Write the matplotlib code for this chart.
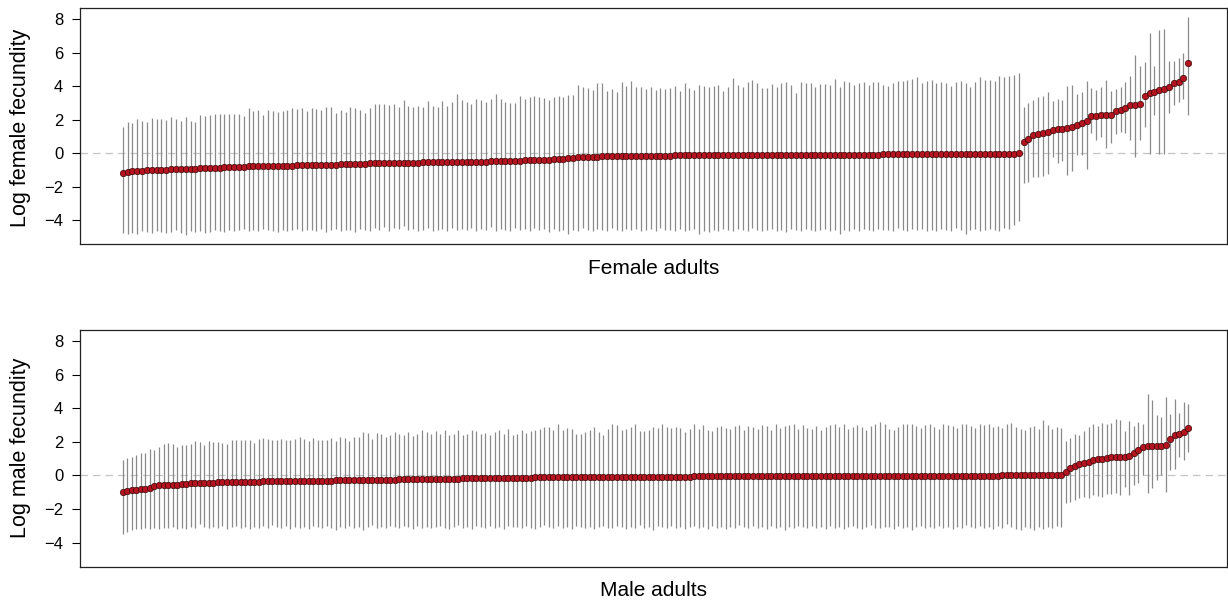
import matplotlib
matplotlib.use("Agg")
import matplotlib.pyplot as plt
import numpy as np

plt.rcParams["font.family"] = ["Liberation Sans", "DejaVu Sans"]

# female adults: posterior mean and interval of log fecundity, sorted by mean
female_mean = [
    -1.20, -1.10, -1.06, -1.04, -1.03, -1.01, -1.00, -0.99, -0.98, -0.97,
    -0.96, -0.95, -0.94, -0.93, -0.92, -0.91, -0.90, -0.89, -0.88, -0.87,
    -0.86, -0.84, -0.82, -0.81, -0.80, -0.79, -0.78, -0.77, -0.76, -0.76,
    -0.75, -0.75, -0.74, -0.74, -0.73, -0.73, -0.72, -0.72, -0.71, -0.71,
    -0.70, -0.70, -0.69, -0.68, -0.67, -0.66, -0.65, -0.64, -0.63, -0.62,
    -0.61, -0.60, -0.59, -0.58, -0.57, -0.56, -0.56, -0.55, -0.55, -0.55,
    -0.55, -0.55, -0.54, -0.54, -0.54, -0.53, -0.53, -0.53, -0.52, -0.52,
    -0.51, -0.51, -0.50, -0.50, -0.49, -0.49, -0.48, -0.47, -0.46, -0.45,
    -0.45, -0.44, -0.43, -0.42, -0.41, -0.40, -0.40, -0.39, -0.38, -0.36,
    -0.34, -0.32, -0.29, -0.26, -0.24, -0.23, -0.22, -0.20, -0.19, -0.18,
    -0.17, -0.16, -0.16, -0.15, -0.15, -0.14, -0.14, -0.14, -0.14, -0.13,
    -0.13, -0.13, -0.13, -0.13, -0.12, -0.12, -0.12, -0.12, -0.12, -0.12,
    -0.12, -0.12, -0.11, -0.11, -0.11, -0.11, -0.11, -0.11, -0.10, -0.10,
    -0.10, -0.10, -0.10, -0.10, -0.10, -0.09, -0.09, -0.09, -0.09, -0.09,
    -0.09, -0.09, -0.08, -0.08, -0.08, -0.08, -0.08, -0.08, -0.08, -0.08,
    -0.07, -0.07, -0.07, -0.07, -0.07, -0.07, -0.07, -0.06, -0.06, -0.06,
    -0.06, -0.06, -0.06, -0.05, -0.05, -0.05, -0.05, -0.05, -0.04, -0.04,
    -0.04, -0.04, -0.04, -0.03, -0.03, -0.03, -0.03, -0.03, -0.02, -0.02,
    -0.02, -0.02, -0.01, -0.01, -0.01, 0.00,
    0.70, 0.88, 1.07, 1.13, 1.23, 1.29, 1.37, 1.43, 1.43, 1.53,
    1.59, 1.67, 1.83, 1.95, 2.21, 2.21, 2.27, 2.31, 2.31, 2.53,
    2.61, 2.71, 2.87, 2.91, 2.97, 3.44, 3.58, 3.68, 3.78, 3.82,
    3.94, 4.18, 4.24, 4.52, 5.37,
]
female_upper = [
    1.59, 1.89, 1.79, 2.03, 1.93, 1.89, 2.09, 2.05, 2.05, 1.99,
    2.19, 2.05, 1.95, 2.15, 1.95, 1.89, 2.29, 2.23, 2.29, 2.33,
    2.35, 2.35, 2.35, 2.35, 2.35, 2.25, 2.69, 2.53, 2.59, 2.29,
    2.59, 2.53, 2.49, 2.53, 2.59, 2.69, 2.63, 2.69, 2.53, 2.73,
    2.63, 2.59, 2.75, 2.79, 2.39, 2.59, 2.49, 2.75, 2.69, 2.59,
    2.39, 2.69, 2.95, 2.95, 2.95, 2.89, 2.95, 2.79,
    3.18, 2.83, 2.75, 2.83, 2.79, 3.12, 2.83, 2.79, 3.12, 2.83,
    3.04, 3.52, 3.18, 3.08, 2.95, 3.22, 3.18, 3.04, 3.24, 3.52,
    3.24, 3.08, 2.99, 3.02, 3.44, 3.24, 3.38, 3.42, 3.34, 3.28,
    3.18, 3.34, 3.44, 3.38, 3.48, 3.48, 4.08, 3.94, 3.88, 3.78,
    4.18, 4.18, 3.74, 3.82, 3.66, 4.28, 4.02, 4.32, 3.94, 3.94,
    3.86, 3.94, 3.78, 3.88, 3.82, 3.88, 4.02, 3.72, 4.18, 3.88,
    3.78, 4.08,
    4.02, 3.98, 4.02, 4.08, 3.74, 3.94, 4.48, 4.08, 3.94, 4.28,
    4.38, 4.18, 3.88, 3.88, 4.14, 3.94, 4.18, 4.28, 4.08, 3.62,
    4.28, 4.18, 4.22, 3.94, 4.12, 4.14, 4.08, 4.42, 3.98, 4.34,
    4.28, 4.08, 4.18, 4.28, 4.08, 4.28, 4.28, 4.08, 4.02, 4.22,
    4.32, 4.34, 4.38, 4.42, 4.54, 4.18, 4.34, 4.38, 4.18, 4.28,
    4.22, 4.02, 4.28, 4.34, 4.18, 3.94, 4.28, 4.58, 4.38, 4.38,
    4.32, 4.62, 4.54,
    4.62, 4.68, 4.78,
    2.75, 2.99, 3.18, 3.38, 3.44, 3.64, 3.10, 3.24, 3.18, 4.02,
    4.08, 3.52, 3.68, 4.34, 3.92, 3.78, 3.98, 4.36, 3.70, 3.84,
    3.94, 4.28, 4.64, 5.89, 5.21, 5.43, 7.20, 5.21, 7.36, 7.40,
    5.53, 5.53, 5.67, 5.97, 8.16,
]
female_lower = [
    -4.78, -4.82, -4.76, -4.80, -4.62, -4.70, -4.74, -4.66, -4.72, -4.78,
    -4.68, -4.60, -4.74, -4.86, -4.66, -4.70, -4.62, -4.76, -4.72, -4.58,
    -4.64, -4.70, -4.56, -4.66, -4.60, -4.52, -4.62, -4.58, -4.66, -4.54,
    -4.60, -4.64, -4.70, -4.56, -4.62, -4.58, -4.52, -4.66, -4.60, -4.56,
    -4.62, -4.54, -4.68, -4.58, -4.50, -4.64, -4.56, -4.60, -4.70, -4.52,
    -4.58, -4.62, -4.44, -4.56, -4.40, -4.66, -4.48, -4.54, -4.36, -4.60,
    -4.52, -4.66, -4.58, -4.44, -4.62, -4.56, -4.50, -4.64, -4.46, -4.58,
    -4.52, -4.60, -4.48, -4.66, -4.54, -4.58, -4.42, -4.62, -4.50, -4.56,
    -4.64, -4.48, -4.58, -4.52, -4.66, -4.46, -4.60, -4.54, -4.70, -4.50,
    -4.62, -4.58, -4.80, -4.56, -4.64, -4.48, -4.60, -4.66, -4.52, -4.58,
    -4.62, -4.46, -4.56, -4.64, -4.50, -4.60, -4.54, -4.66, -4.58, -4.52,
    -4.64, -4.48, -4.60, -4.56, -4.62, -4.50, -4.66, -4.58, -4.54, -4.84,
    -4.62, -4.70, -4.56, -4.64, -4.50, -4.60, -4.66, -4.54, -4.58, -4.62,
    -4.48, -4.56, -4.66, -4.60, -4.52, -4.64, -4.58, -4.70, -4.54, -4.60,
    -4.62, -4.50, -4.56, -4.66, -4.58, -4.52, -4.64, -4.60, -4.84, -4.56,
    -4.62, -4.54, -4.66, -4.50, -4.58, -4.64, -4.52, -4.60, -4.56, -4.62,
    -4.48, -4.58, -4.64, -4.54, -4.60, -4.50, -4.66, -4.56, -4.62, -4.52,
    -4.58, -4.64, -4.46, -4.56, -4.84, -4.60, -4.52, -4.62, -4.56, -4.50,
    -4.58, -4.62, -4.48, -4.54, -4.28, -4.02,
    -1.75, -1.69, -1.39, -1.39, -1.35, -1.23, -0.20, -0.60, -0.44, -1.29,
    -1.03, -0.12, -0.10, -0.94, 1.19, 0.80, 0.96, 0.30, 0.60, 1.15,
    1.29, 1.19, 0.80, -0.24, 0.80, 1.59, -0.04, 2.29, -0.04, -0.04,
    2.43, 2.89, 3.08, 3.26, 2.29,
]

# male adults
male_mean = [
    -0.97, -0.91, -0.87, -0.84, -0.82, -0.79, -0.73, -0.62, -0.58, -0.57,
    -0.57, -0.56, -0.56, -0.52, -0.48, -0.47, -0.46, -0.44, -0.43, -0.42,
    -0.42, -0.41, -0.40, -0.40, -0.39, -0.38, -0.38, -0.37, -0.37, -0.36,
    -0.36, -0.35, -0.35, -0.35, -0.34, -0.34, -0.34, -0.33, -0.33, -0.33,
    -0.32, -0.32, -0.31, -0.31, -0.30, -0.30, -0.30, -0.29, -0.29, -0.29,
    -0.28, -0.28, -0.28, -0.27, -0.27, -0.26, -0.26, -0.25, -0.25, -0.24,
    -0.24, -0.23, -0.23, -0.22, -0.22, -0.21, -0.21, -0.20, -0.20, -0.20,
    -0.19, -0.19, -0.18, -0.18, -0.18, -0.17, -0.17, -0.17, -0.16, -0.16,
    -0.16, -0.15, -0.15, -0.15, -0.14, -0.14, -0.14, -0.13, -0.13, -0.13,
    -0.13, -0.12, -0.12, -0.12, -0.12, -0.11, -0.11, -0.11, -0.11, -0.10,
    -0.10, -0.10, -0.10, -0.10, -0.09, -0.09, -0.09, -0.09, -0.09, -0.09,
    -0.08, -0.08, -0.08, -0.08, -0.08, -0.08, -0.08, -0.07, -0.07, -0.07,
    -0.07, -0.07, -0.07, -0.07, -0.07, -0.07, -0.06, -0.06, -0.06, -0.06,
    -0.06, -0.06, -0.06, -0.06, -0.06, -0.06, -0.05, -0.05, -0.05, -0.05,
    -0.05, -0.05, -0.05, -0.05, -0.05, -0.05, -0.05, -0.04, -0.04, -0.04,
    -0.04, -0.04, -0.04, -0.04, -0.04, -0.04, -0.04, -0.04, -0.03, -0.03,
    -0.03, -0.03, -0.03, -0.03, -0.03, -0.03, -0.03, -0.03, -0.03, -0.03,
    -0.02, -0.02, -0.02, -0.02, -0.02, -0.02, -0.02, -0.02, -0.02, -0.02,
    -0.02, -0.01, -0.01, -0.01, -0.01, -0.01, -0.01, -0.01, -0.01, -0.01,
    -0.01, -0.01, -0.01, -0.01, 0.00, 0.00, 0.00, 0.00, 0.00, 0.00,
    0.00, 0.00, 0.00, 0.00, 0.00, 0.00, 0.00, 0.00,
    0.22, 0.47, 0.59, 0.67, 0.75, 0.81, 0.91, 1.01, 1.01, 1.05,
    1.09, 1.11, 1.11, 1.11, 1.15, 1.31, 1.50, 1.70, 1.78, 1.78,
    1.78, 1.78, 1.80, 2.20, 2.39, 2.49, 2.59, 2.83,
]
male_upper = [
    0.95, 1.07, 1.11, 1.21, 1.31, 1.35, 1.60, 1.50, 1.70, 1.86,
    1.94, 1.86, 1.70, 1.80, 1.80, 1.90, 2.06, 2.00, 1.80, 2.06,
    2.00, 1.98, 1.94, 1.86, 2.10, 2.14, 2.10, 2.14, 2.14, 1.94,
    2.20, 2.26, 2.20, 2.14, 2.10, 2.20, 2.10, 2.14, 2.20, 2.29,
    2.20, 2.06, 2.26, 2.14, 2.10, 2.14, 2.26, 2.06, 2.29, 2.26,
    2.06, 2.29, 2.29, 2.59, 2.53, 2.20, 2.53, 2.45, 2.29, 2.39,
    2.59, 2.45,
    2.39, 2.59, 2.33, 2.49, 2.69, 2.59, 2.49, 2.65, 2.49, 2.69,
    2.39, 2.49, 2.73, 2.39, 2.49, 2.69, 2.65, 2.49, 2.53, 2.39,
    2.59, 2.69, 2.49, 2.79, 2.39, 2.49, 2.69, 2.53, 2.65, 2.69,
    2.79, 2.89, 2.89, 2.69, 3.09, 2.73, 2.85, 2.79, 2.49, 2.49,
    2.59, 2.69, 2.89, 2.59, 2.39, 2.79, 3.05, 2.99, 2.69, 2.79,
    2.89, 3.09, 2.65, 2.65, 2.69, 2.89, 2.85, 3.09, 2.89, 2.85,
    2.89, 2.85, 2.59, 2.79, 3.05, 2.79,
    2.99, 2.69, 2.65, 2.89, 2.95, 2.85, 2.79, 2.95, 2.99, 2.69,
    2.95, 2.89, 2.79, 2.99, 2.95, 2.69, 3.05, 2.85, 2.95, 2.99,
    3.05, 2.79, 2.99, 2.85, 2.75, 2.95, 2.69, 2.89, 2.99, 3.05,
    2.89, 3.09, 2.79, 2.89, 2.99, 2.89, 2.69, 2.95, 3.05, 3.19,
    3.09, 2.79, 2.69, 2.89, 3.05, 3.09, 3.05, 2.95, 2.85, 2.99,
    3.09, 2.89, 2.79, 3.05, 2.99, 2.95, 2.85, 3.05, 3.09, 2.95,
    2.85, 3.09, 2.99, 3.05, 2.89, 2.95,
    2.85, 3.09, 3.13, 2.89, 2.79, 2.73, 2.89, 2.93, 2.79, 3.28,
    3.00, 2.79, 2.89, 2.85,
    2.05, 2.26, 2.49, 2.39, 2.65, 2.89, 3.05, 2.93, 3.15, 3.09,
    3.13, 3.38, 3.32, 2.65, 3.24, 2.93, 3.19, 3.09, 4.83, 4.47,
    3.60, 3.48, 4.67, 3.64, 4.57, 3.72, 4.37, 4.27,
]
male_lower = [
    -3.50, -3.36, -3.24, -3.18, -3.16, -3.14, -3.20, -3.12, -3.18, -3.10,
    -3.14, -3.08, -3.16, -3.10, -3.18, -3.06, -3.12, -2.90, -3.08, -3.14,
    -3.04, -3.10, -3.02, -3.16, -3.08, -2.98, -3.12, -3.04, -3.20, -3.06,
    -3.10, -3.02, -3.14, -2.96, -3.08, -3.12, -3.00, -3.16, -3.06, -3.10,
    -3.04, -3.18, -3.02, -3.08, -3.12, -2.98, -3.10, -3.26, -3.04, -3.14,
    -3.00, -3.12, -3.06, -3.22, -3.08, -2.96, -3.14, -3.04, -3.10, -3.02,
    -3.06, -3.12, -2.98, -3.08, -3.16, -3.00, -3.10, -3.04, -3.14, -3.06,
    -3.02, -3.10, -3.18, -3.04, -2.96, -3.12, -3.06, -3.20, -3.02, -3.08,
    -3.14, -3.00, -3.10, -3.06, -3.16, -2.98, -3.08, -3.04, -3.12, -3.02,
    -3.10, -3.18, -3.04, -2.94, -3.08, -3.14, -3.02, -3.10, -3.06, -3.16,
    -3.00, -3.08, -3.12, -3.04, -3.20, -3.06, -2.98, -3.10, -3.14, -3.02,
    -3.08, -3.16, -3.04, -3.10, -2.96, -3.12, -3.06, -3.24, -3.02, -3.08,
    -3.14, -3.00, -3.10, -3.06, -3.18, -3.04, -2.98, -3.12, -3.08, -3.16,
    -3.02, -3.10, -3.06, -3.20, -3.04, -3.12, -2.96, -3.08, -3.14, -3.00,
    -3.10, -3.06, -3.16, -3.02, -3.12, -3.08, -3.22, -3.04, -3.10, -2.98,
    -3.08, -3.14, -3.02, -3.12, -3.06, -3.18, -3.00, -3.10, -3.04, -3.16,
    -3.08, -3.02, -3.12, -3.20, -3.06, -2.96, -3.10, -3.14, -3.04, -3.08,
    -3.16, -3.00, -3.10, -3.06, -3.22, -3.04, -2.98, -3.12, -3.08, -3.14,
    -3.02, -3.10, -3.06, -3.18, -3.04, -3.12, -2.96, -3.08, -3.14, -3.00,
    -3.10, -3.06, -3.16, -3.02, -3.12, -2.90, -3.08, -3.20, -3.24, -3.04,
    -3.14, -3.22, -3.08, -3.18, -3.06, -3.12, -3.00, -3.05,
    -1.66, -1.56, -1.46, -1.36, -1.27, -1.36, -1.17, -1.23, -1.27, -1.11,
    -1.11, -1.07, -1.17, -0.67, -1.17, -0.57, -0.47, 0.02, -1.07, -0.77,
    -0.28, 0.02, -0.97, 0.32, 0.36, 1.11, 0.91, 1.40,
]

Y_TICKS = [-4, -2, 0, 2, 4, 6, 8]

W, H = 1228, 601
POINT_RED = "#b3141f"
WHISKER_GRAY = "#8a8a8a"


def draw_panel(ax, mean, lower, upper):
    n = len(mean)
    x = np.arange(1, n + 1)
    ax.axhline(0, color="#c4c4c4", lw=0.9, ls=(0, (6, 4)), zorder=1)
    ax.vlines(x, lower, upper, color=WHISKER_GRAY, lw=0.9, zorder=2)
    ax.plot(x, mean, "o", ms=4.6, mfc=POINT_RED, mec="#3a0808", mew=0.5, zorder=3)
    ax.set_xlim(1 - 0.0398 * (n - 1), n + 0.0363 * (n - 1))
    ax.set_ylim(-5.43, 8.66)
    ax.set_xticks([])
    ax.set_yticks(Y_TICKS)
    ax.tick_params(axis="y", direction="out", length=5.8, width=0.8, pad=6.5, labelsize=12)
    for side in ax.spines.values():
        side.set_linewidth(0.9)
        side.set_color("#222222")


fig = plt.figure(figsize=(W / 100, H / 100), dpi=100)
left = 80.3 / W
width = (1227 - 80.3) / W

ax_f = fig.add_axes([left, 1 - 244.3 / H, width, (244.3 - 8.3) / H])
draw_panel(ax_f, female_mean, female_lower, female_upper)
ax_m = fig.add_axes([left, 1 - 566.7 / H, width, (566.7 - 330) / H])
draw_panel(ax_m, male_mean, male_lower, male_upper)

fig.text(20.5 / W, 1 - 128 / H, "Log female fecundity", rotation=90, ha="center", va="center", fontsize=15.5)
fig.text(20.5 / W, 1 - 448.3 / H, "Log male fecundity", rotation=90, ha="center", va="center", fontsize=15.5)
fig.text(653.6 / W, 1 - 268 / H, "Female adults", ha="center", va="center", fontsize=15)
fig.text(653.6 / W, 1 - 591 / H, "Male adults", ha="center", va="center", fontsize=15)

fig.savefig("out.png", dpi=100)
plt.close(fig)
